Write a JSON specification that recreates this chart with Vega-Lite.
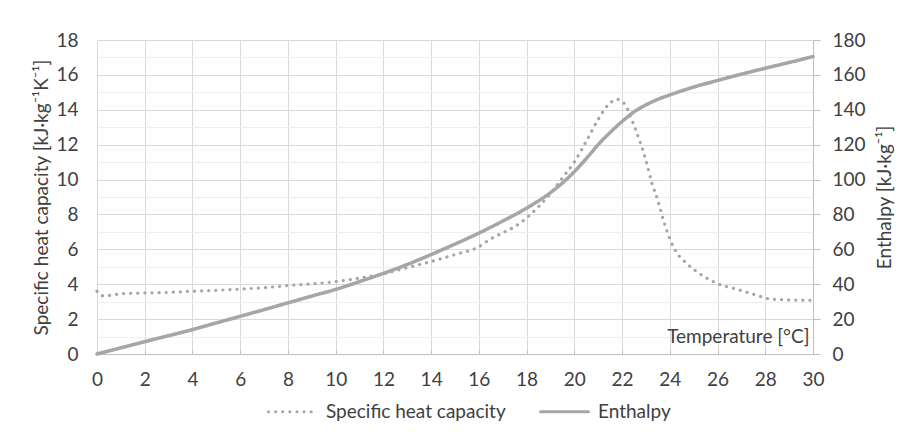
{
  "$schema": "https://vega.github.io/schema/vega-lite/v6.json",
  "width": 716,
  "height": 314,
  "autosize": "none",
  "padding": {"left": 97, "top": 40, "right": 89, "bottom": 83},
  "background": "white",
  "config": {
    "font": "Lato",
    "view": {"stroke": null},
    "axis": {"labelFont": "Lato", "titleFont": "Lato", "labelFontSize": 19, "titleFontSize": 19, "labelColor": "#404040", "titleColor": "#404040", "titleFontWeight": "normal"},
    "legend": {"labelFont": "Lato", "labelFontSize": 19, "labelColor": "#404040", "labelLimit": 0}
  },
  "data": {
    "values": [
      {"T": 0, "series": "Specific heat capacity", "v": 3.6},
      {"T": 0.3, "series": "Specific heat capacity", "v": 3.32},
      {"T": 0.7, "series": "Specific heat capacity", "v": 3.4},
      {"T": 1, "series": "Specific heat capacity", "v": 3.45},
      {"T": 2, "series": "Specific heat capacity", "v": 3.5},
      {"T": 3, "series": "Specific heat capacity", "v": 3.53},
      {"T": 4, "series": "Specific heat capacity", "v": 3.6},
      {"T": 5, "series": "Specific heat capacity", "v": 3.65},
      {"T": 6, "series": "Specific heat capacity", "v": 3.72},
      {"T": 7, "series": "Specific heat capacity", "v": 3.8},
      {"T": 8, "series": "Specific heat capacity", "v": 3.92},
      {"T": 9, "series": "Specific heat capacity", "v": 4.02},
      {"T": 10, "series": "Specific heat capacity", "v": 4.15},
      {"T": 11, "series": "Specific heat capacity", "v": 4.35},
      {"T": 12, "series": "Specific heat capacity", "v": 4.6},
      {"T": 13, "series": "Specific heat capacity", "v": 4.95},
      {"T": 14, "series": "Specific heat capacity", "v": 5.3},
      {"T": 15, "series": "Specific heat capacity", "v": 5.7},
      {"T": 16, "series": "Specific heat capacity", "v": 6.15},
      {"T": 16.5, "series": "Specific heat capacity", "v": 6.6},
      {"T": 17, "series": "Specific heat capacity", "v": 6.95},
      {"T": 17.5, "series": "Specific heat capacity", "v": 7.3},
      {"T": 18, "series": "Specific heat capacity", "v": 7.8},
      {"T": 18.5, "series": "Specific heat capacity", "v": 8.45},
      {"T": 19, "series": "Specific heat capacity", "v": 9.2},
      {"T": 19.5, "series": "Specific heat capacity", "v": 10.1},
      {"T": 20, "series": "Specific heat capacity", "v": 11.0},
      {"T": 20.5, "series": "Specific heat capacity", "v": 12.2},
      {"T": 21, "series": "Specific heat capacity", "v": 13.45},
      {"T": 21.4, "series": "Specific heat capacity", "v": 14.25},
      {"T": 21.8, "series": "Specific heat capacity", "v": 14.6},
      {"T": 22.1, "series": "Specific heat capacity", "v": 14.35},
      {"T": 22.5, "series": "Specific heat capacity", "v": 13.1},
      {"T": 23, "series": "Specific heat capacity", "v": 11.1},
      {"T": 23.25, "series": "Specific heat capacity", "v": 9.8},
      {"T": 23.5, "series": "Specific heat capacity", "v": 8.8},
      {"T": 23.75, "series": "Specific heat capacity", "v": 7.6},
      {"T": 24, "series": "Specific heat capacity", "v": 6.6},
      {"T": 24.3, "series": "Specific heat capacity", "v": 5.8},
      {"T": 24.7, "series": "Specific heat capacity", "v": 5.2},
      {"T": 25.2, "series": "Specific heat capacity", "v": 4.65},
      {"T": 25.75, "series": "Specific heat capacity", "v": 4.2},
      {"T": 26, "series": "Specific heat capacity", "v": 4.03},
      {"T": 26.7, "series": "Specific heat capacity", "v": 3.75},
      {"T": 27.25, "series": "Specific heat capacity", "v": 3.53},
      {"T": 27.9, "series": "Specific heat capacity", "v": 3.26},
      {"T": 28.2, "series": "Specific heat capacity", "v": 3.15},
      {"T": 29, "series": "Specific heat capacity", "v": 3.1},
      {"T": 30, "series": "Specific heat capacity", "v": 3.08},
      {"T": 0, "series": "Enthalpy", "v": 0},
      {"T": 1, "series": "Enthalpy", "v": 3.5},
      {"T": 2, "series": "Enthalpy", "v": 7.1},
      {"T": 3, "series": "Enthalpy", "v": 10.5},
      {"T": 4, "series": "Enthalpy", "v": 14},
      {"T": 5, "series": "Enthalpy", "v": 17.8},
      {"T": 6, "series": "Enthalpy", "v": 21.6},
      {"T": 7, "series": "Enthalpy", "v": 25.4},
      {"T": 8, "series": "Enthalpy", "v": 29.3},
      {"T": 9, "series": "Enthalpy", "v": 33.2},
      {"T": 10, "series": "Enthalpy", "v": 37},
      {"T": 11, "series": "Enthalpy", "v": 41.5},
      {"T": 12, "series": "Enthalpy", "v": 46.2},
      {"T": 13, "series": "Enthalpy", "v": 51.3},
      {"T": 14, "series": "Enthalpy", "v": 57},
      {"T": 15, "series": "Enthalpy", "v": 63},
      {"T": 16, "series": "Enthalpy", "v": 69.3},
      {"T": 17, "series": "Enthalpy", "v": 76.2},
      {"T": 18, "series": "Enthalpy", "v": 83.6},
      {"T": 19, "series": "Enthalpy", "v": 92.5},
      {"T": 19.5, "series": "Enthalpy", "v": 98},
      {"T": 20, "series": "Enthalpy", "v": 104.5},
      {"T": 20.5, "series": "Enthalpy", "v": 112},
      {"T": 21, "series": "Enthalpy", "v": 120},
      {"T": 21.5, "series": "Enthalpy", "v": 127},
      {"T": 22, "series": "Enthalpy", "v": 133.3},
      {"T": 22.5, "series": "Enthalpy", "v": 138.8},
      {"T": 23, "series": "Enthalpy", "v": 142.8},
      {"T": 23.5, "series": "Enthalpy", "v": 146},
      {"T": 24, "series": "Enthalpy", "v": 148.5},
      {"T": 25, "series": "Enthalpy", "v": 153},
      {"T": 26, "series": "Enthalpy", "v": 156.8},
      {"T": 27, "series": "Enthalpy", "v": 160.4},
      {"T": 28, "series": "Enthalpy", "v": 163.8},
      {"T": 29, "series": "Enthalpy", "v": 167.1},
      {"T": 30, "series": "Enthalpy", "v": 170.5}
    ]
  },
  "layer": [
    {
      "transform": [{"filter": "datum.series === 'Specific heat capacity'"}],
      "mark": {"type": "line", "interpolate": "monotone", "strokeWidth": 3.2, "strokeCap": "round"},
      "encoding": {
        "x": {
          "field": "T", "type": "quantitative",
          "scale": {"domain": [0, 30], "nice": false},
          "axis": {
            "values": [0,1,2,3,4,5,6,7,8,9,10,11,12,13,14,15,16,17,18,19,20,21,22,23,24,25,26,27,28,29,30],
            "labelExpr": "datum.value % 2 ? '' : datum.label",
            "labelFlush": false, "labelOverlap": false,
            "grid": true,
            "gridColor": {"condition": {"test": "datum.value % 2 === 0", "value": "#d9d9d9"}, "value": "#eeeeee"},
            "domainColor": "#bfbfbf", "tickColor": "#bfbfbf", "tickSize": -4, "labelPadding": 20,
            "title": "Temperature [°C]", "titleX": 712, "titleY": -12, "titleAlign": "right", "titleBaseline": "alphabetic"
          }
        },
        "y": {
          "field": "v", "type": "quantitative",
          "scale": {"domain": [0, 18], "nice": false},
          "axis": {
            "values": [0,1,2,3,4,5,6,7,8,9,10,11,12,13,14,15,16,17,18],
            "labelExpr": "datum.value % 2 ? '' : datum.label",
            "labelOverlap": false,
            "grid": true,
            "gridColor": {"condition": {"test": "datum.value % 2 === 0", "value": "#d9d9d9"}, "value": "#eeeeee"},
            "domain": false, "ticks": false, "tickSize": 0, "labelPadding": 19,
            "title": "Specific heat capacity [kJ·kg⁻¹K⁻¹]", "titlePadding": 4
          }
        },
        "color": {
          "field": "series", "type": "nominal",
          "scale": {"domain": ["Specific heat capacity", "Enthalpy"], "range": ["#a6a6a6", "#a6a6a6"]},
          "legend": {"title": null, "orient": "none", "legendX": 170, "legendY": 346, "direction": "horizontal", "symbolType": "stroke", "symbolSize": 2300, "symbolStrokeWidth": 3, "columnPadding": 28, "labelOffset": 8, "labelLimit": 0, "encode": {"symbols": {"update": {"strokeCap": {"value": "round"}}}}}
        },
        "strokeDash": {
          "field": "series", "type": "nominal",
          "scale": {"domain": ["Specific heat capacity", "Enthalpy"], "range": [[0.1, 7], [1, 0]]},
          "legend": {"title": null, "orient": "none", "legendX": 170, "legendY": 346, "direction": "horizontal", "symbolType": "stroke", "symbolSize": 2300, "symbolStrokeWidth": 3, "columnPadding": 28, "labelOffset": 8, "labelLimit": 0, "encode": {"symbols": {"update": {"strokeCap": {"value": "round"}}}}}
        }
      }
    },
    {
      "transform": [{"filter": "datum.series === 'Enthalpy'"}],
      "mark": {"type": "line", "interpolate": "monotone", "strokeWidth": 3.5, "strokeCap": "round"},
      "encoding": {
        "x": {"field": "T", "type": "quantitative"},
        "y": {
          "field": "v", "type": "quantitative",
          "scale": {"domain": [0, 180], "nice": false},
          "axis": {
            "orient": "right",
            "values": [0,20,40,60,80,100,120,140,160,180],
            "grid": false,
            "domainColor": "#bfbfbf", "tickColor": "#bfbfbf", "tickSize": 7, "labelPadding": 12,
            "title": "Enthalpy [kJ·kg⁻¹]", "titleAngle": -90, "titleBaseline": "top", "titlePadding": 10
          }
        },
        "color": {"field": "series", "type": "nominal"},
        "strokeDash": {"field": "series", "type": "nominal"}
      }
    }
  ],
  "resolve": {"scale": {"y": "independent"}}
}
